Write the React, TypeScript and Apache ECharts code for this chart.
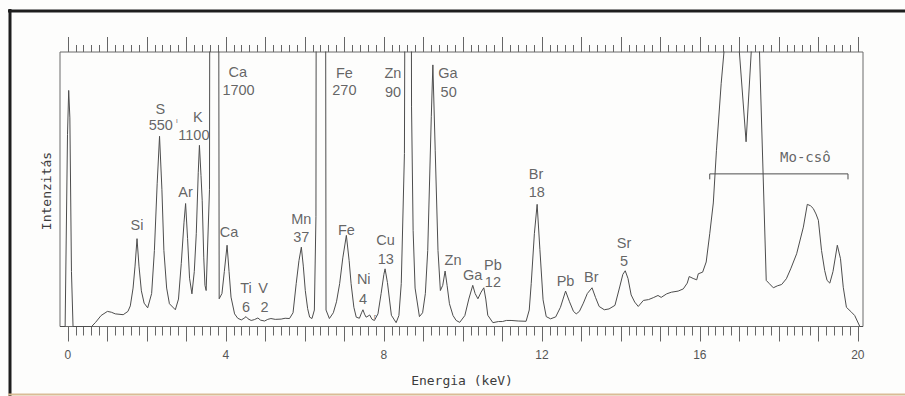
import React, { useEffect, useRef } from 'react';
import * as echarts from 'echarts';

// Spectrum: energy (keV) and relative intensity (0–100 = plot height; >100 clipped)
const energy = [
  -0.2, -0.07, -0.01, 0.02, 0.05, 0.09, 0.13, 0.6, 0.7, 0.84, 1.0, 1.1, 1.2, 1.4, 1.52, 1.58, 1.65, 1.7, 1.75, 1.8,
  1.86, 1.93, 2.02, 2.12, 2.19, 2.26, 2.32, 2.38, 2.43, 2.5, 2.57, 2.72, 2.8, 2.87, 2.94, 2.98, 3.03, 3.08, 3.14, 3.2,
  3.25, 3.3, 3.33, 3.37, 3.4, 3.44, 3.47, 3.5, 3.585, 3.61, 3.8, 3.83, 3.9, 3.96, 4.03, 4.08, 4.13, 4.22, 4.3, 4.39,
  4.46, 4.51, 4.56, 4.64, 4.72, 4.81, 4.88, 4.98, 5.06, 5.14, 5.25, 5.4, 5.5, 5.61, 5.7, 5.78, 5.85, 5.91, 5.96, 6.01,
  6.07, 6.12, 6.18, 6.24, 6.28, 6.3, 6.51, 6.535, 6.62, 6.72, 6.8, 6.88, 6.96, 7.05, 7.12, 7.17, 7.24, 7.3, 7.38, 7.44,
  7.47, 7.51, 7.55, 7.6, 7.64, 7.7, 7.76, 7.85, 7.93, 8.0, 8.03, 8.09, 8.19, 8.31, 8.38, 8.44, 8.52, 8.57, 8.67, 8.7,
  8.74, 8.79, 8.9, 8.98, 9.05, 9.11, 9.2, 9.24, 9.3, 9.37, 9.43, 9.49, 9.55, 9.6, 9.66, 9.75, 9.83, 9.92, 10.05, 10.15,
  10.25, 10.31, 10.38, 10.46, 10.53, 10.58, 10.63, 10.76, 10.9, 11.0, 11.1, 11.22, 11.4, 11.6, 11.68, 11.73, 11.81, 11.88, 11.95, 12.03,
  12.11, 12.22, 12.35, 12.47, 12.6, 12.7, 12.8, 12.87, 12.95, 13.05, 13.15, 13.27, 13.36, 13.45, 13.58, 13.7, 13.85, 13.97, 14.05, 14.11,
  14.18, 14.26, 14.35, 14.44, 14.57, 14.7, 14.82, 14.94, 15.02, 15.16, 15.28, 15.45, 15.58, 15.68, 15.73, 15.83, 15.92, 15.96, 16.07, 16.16,
  16.25, 16.34, 16.42, 16.54, 16.61, 16.7, 16.92, 17.0, 17.17, 17.3, 17.36, 17.46, 17.51, 17.68, 17.76, 17.86, 17.96, 18.07, 18.19, 18.3,
  18.45, 18.62, 18.72, 18.8, 18.87, 18.94, 19.0, 19.08, 19.16, 19.22, 19.29, 19.37, 19.48, 19.56, 19.63, 19.71, 19.84, 19.92, 20.05, 20.13,
];
const intensity = [
  0, 0, 70, 86, 76, 20, 0, 0, 1.5, 4.0, 5.5, 5.2, 4.6, 4.3, 5.5, 7.5, 14, 22, 32, 22,
  13, 8.5, 6.8, 12, 27.7, 52, 69.3, 50, 27.7, 14, 8.3, 6.1, 10, 22.9, 38, 44.8, 32, 17.6, 11.9, 20,
  33.8, 56, 66, 55, 46, 25, 15, 13.1, 50, 300, 300, 10.1, 12, 20, 29.6, 20, 10.7, 4.6, 3, 2.4,
  3.0, 3.6, 2.8, 2.2, 2.5, 3.1, 2.3, 2.0, 2.6, 2.9, 2.6, 2.7, 3.0, 2.9, 5, 15.6, 24, 28.9, 22, 13.1,
  6.5, 3.4, 2.9, 6, 40, 300, 300, 6, 2.9, 5, 9, 15.6, 25, 33.2, 24, 15.6, 7, 3.4, 3.0, 5.2,
  6.1, 4.5, 3.4, 3.8, 4.2, 2.6, 2.2, 4.6, 12, 19, 21, 16, 4.1, 1.4, 4, 15.6, 63, 300, 300, 80,
  35, 14, 3.6, 5, 12, 27.7, 76.4, 95.3, 64, 27.7, 13.1, 15, 20.2, 15, 8.3, 4, 2.2, 1.5, 4, 10,
  15, 12, 10.1, 12.5, 14.1, 10, 4.1, 1.4, 1.8, 1.8, 2.2, 2.2, 2.0, 1.9, 6, 15.6, 33.8, 44.5, 28, 9.7,
  3.6, 2.8, 3.5, 7.0, 12.9, 9, 5.5, 4.6, 5.5, 8.5, 12, 14.1, 10.5, 7.3, 6.1, 6.4, 7.7, 14.4, 19, 20.3,
  17.5, 11.5, 8.9, 7.3, 9.5, 9.8, 10.5, 11.3, 10.6, 11.9, 12.5, 12.9, 13.7, 15.8, 18.2, 17.5, 17.0, 19.2, 19.8, 23.5,
  33.8, 45, 64.2, 88.6, 100, 300, 300, 100, 67.3, 100, 300, 300, 100, 16.8, 15.6, 14.1, 14.8, 15.3, 17.4, 21,
  26.5, 36.2, 44.5, 44, 43, 41, 38.7, 27.7, 20.4, 16.8, 15.8, 20, 29.6, 24.7, 14.3, 7.0, 5.2, 4.0, 0, 0,
];

// Peak annotations (element / relative amount)
const labelTexts = [
  'S', '550', 'K', '1100', 'Ar', 'Si', 'Ca', '1700', 'Ca', 'Ti', '6', 'V', '2', 'Mn', '37',
  'Fe', '270', 'Fe', 'Ni', '4', 'Cu', '13', 'Zn', '90', 'Ga', '50', 'Zn', 'Ga', 'Pb', '12',
  'Br', '18', 'Pb', 'Br', 'Sr', '5',
];
const labelEnergy = [
  2.34, 2.35, 3.29, 3.19, 2.98, 1.75, 4.30, 4.32, 4.08, 4.51, 4.51, 4.94, 4.98, 5.91, 5.91,
  7.0, 7.0, 7.05, 7.49, 7.47, 8.04, 8.05, 8.23, 8.23, 9.62, 9.64, 9.75, 10.25, 10.76, 10.76,
  11.85, 11.87, 12.6, 13.25, 14.08, 14.08,
];
const labelLevel = [
  79.4, 73.4, 76.4, 69.8, 49.0, 36.9, 92.8, 86.1, 34.4, 14.0, 7.0, 14.0, 7.0, 39.3, 32.6,
  92.4, 86.1, 35.0, 17.4, 10.1, 31.4, 24.7, 92.2, 85.5, 92.2, 85.5, 24.1, 18.9, 22.3, 16.2,
  55.7, 49.0, 16.5, 18.0, 30.4, 23.7,
];
const markTexts = ['ı', 'r'];
const markEnergy = [2.76, 7.78];
const markLevel = [75.2, 3.8];

const tubeLabel = 'Mo-csô';
const tubeEnergy = [16.25, 19.75];
const tubeLevel = [53.6, 55.6];

const xTickLabels = [0, 4, 8, 12, 16, 20];

export default function App() {
  const ref = useRef<HTMLDivElement>(null);
  useEffect(() => {
    const chart = echarts.init(ref.current!, null, { renderer: 'svg' });
    const minorTicks: number[] = [];
    for (let i = 0; i <= 100; i++) if (i % 5 !== 0) minorTicks.push(i / 5);
    const majorTicks: number[] = [];
    for (let i = 0; i <= 20; i++) majorTicks.push(i);
    const tickStyle = { color: '#666', width: 1 };
    const baseX = {
      type: 'value',
      min: -0.2,
      max: 20.13,
      splitLine: { show: false },
      axisLine: { show: false },
    };
    const sans = '"Liberation Sans", Arial, sans-serif';
    const mono = '"DejaVu Sans Mono", monospace';

    chart.setOption({
      animation: false,
      backgroundColor: '#fdfdfc',
      grid: { left: 60, right: 42, top: 52, bottom: 69.5, show: true, borderColor: '#6a6a6a', borderWidth: 1 },
      xAxis: [
        {
          ...baseX,
          position: 'bottom',
          axisTick: { show: true, length: 15, customValues: majorTicks, lineStyle: tickStyle },
          axisLabel: { show: true, customValues: xTickLabels, margin: 22, fontSize: 12, color: '#555', fontFamily: sans },
        },
        {
          ...baseX,
          position: 'bottom',
          axisTick: { show: true, length: 9, customValues: minorTicks, lineStyle: tickStyle },
          axisLabel: { show: false },
        },
        {
          ...baseX,
          position: 'top',
          axisTick: { show: true, length: 15, customValues: majorTicks, lineStyle: tickStyle },
          axisLabel: { show: false },
        },
        {
          ...baseX,
          position: 'top',
          axisTick: { show: true, length: 7, customValues: minorTicks, lineStyle: tickStyle },
          axisLabel: { show: false },
        },
      ],
      yAxis: { type: 'value', min: 0, max: 100, show: false },
      series: [
        {
          type: 'line',
          data: energy.map((e, i) => [e, intensity[i]]),
          showSymbol: false,
          symbol: 'none',
          clip: true,
          silent: true,
          lineStyle: { color: '#4d4d4d', width: 1 },
        },
        {
          type: 'line',
          data: [
            [tubeEnergy[0], tubeLevel[0]],
            [tubeEnergy[0], tubeLevel[1]],
            [tubeEnergy[1], tubeLevel[1]],
            [tubeEnergy[1], tubeLevel[0]],
          ],
          showSymbol: false,
          symbol: 'none',
          silent: true,
          lineStyle: { color: '#4d4d4d', width: 1 },
        },
        {
          type: 'scatter',
          symbolSize: 0,
          silent: true,
          data: labelTexts.map((t, i) => [labelEnergy[i], labelLevel[i], t]),
          label: {
            show: true,
            position: 'inside',
            formatter: (p: any) => p.data[2],
            fontSize: 14.5,
            color: '#3c3c3c',
            fontFamily: sans,
          },
        },
        {
          type: 'scatter',
          symbolSize: 0,
          silent: true,
          data: markTexts.map((t, i) => [markEnergy[i], markLevel[i], t]),
          label: {
            show: true,
            position: 'inside',
            formatter: (p: any) => p.data[2],
            fontSize: 8,
            color: '#555',
            fontFamily: sans,
          },
        },
        {
          type: 'scatter',
          symbolSize: 0,
          silent: true,
          data: [[(tubeEnergy[0] + tubeEnergy[1]) / 2 + 0.67, 61.6, tubeLabel]],
          label: {
            show: true,
            position: 'inside',
            formatter: (p: any) => p.data[2],
            fontSize: 14,
            color: '#3c3c3c',
            fontFamily: mono,
          },
        },
      ],
      graphic: [
        { type: 'line', shape: { x1: 8, y1: 11, x2: 905, y2: 11 }, style: { stroke: '#1e1e1e', lineWidth: 3 } },
        { type: 'line', shape: { x1: 10, y1: 9, x2: 10, y2: 396 }, style: { stroke: '#1e1e1e', lineWidth: 3 } },
        { type: 'line', shape: { x1: 8, y1: 394.5, x2: 905, y2: 394.5 }, style: { stroke: '#d9bc95', lineWidth: 2 } },
        {
          type: 'text',
          x: 462,
          y: 380,
          style: { text: 'Energia (keV)', fontSize: 13, fontFamily: mono, fill: '#3c3c3c', align: 'center', verticalAlign: 'middle' },
        },
        {
          type: 'text',
          x: 46,
          y: 191,
          rotation: Math.PI / 2,
          style: { text: 'Intenzitás', fontSize: 13, fontFamily: mono, fill: '#3c3c3c', align: 'center', verticalAlign: 'middle' },
        },
      ],
    });
    return () => chart.dispose();
  }, []);
  return (
    <div
      ref={ref}
      style={{ position: 'fixed', left: 0, top: 0, width: 905, height: 396 }}
    />
  );
}
